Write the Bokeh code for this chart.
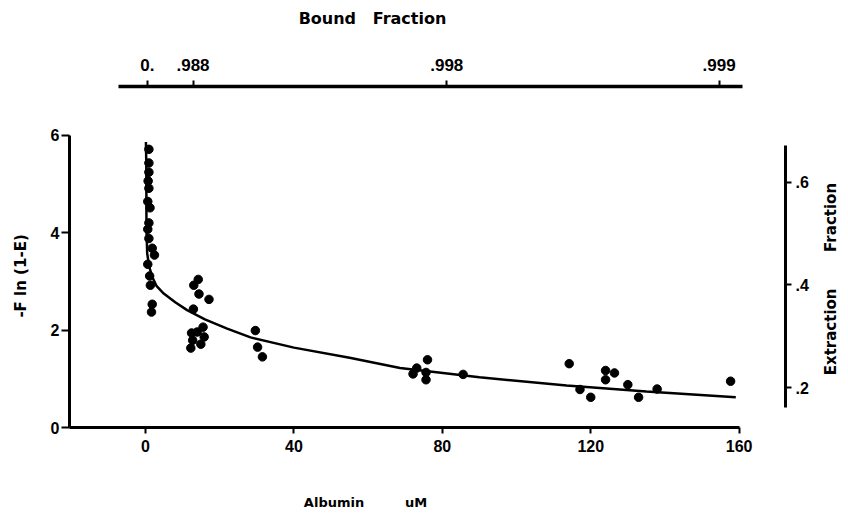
import math
from bokeh.plotting import figure
from bokeh.models import Range1d, LinearAxis, FixedTicker, Label
from bokeh.layouts import column, row
from bokeh.embed import file_html
from bokeh.resources import INLINE

# ---- data ----
albumin = [0.9, 0.9, 0.9, 0.7, 0.9, 0.6, 1.2, 0.9, 0.6, 0.9, 1.8, 2.4, 0.6, 1.1, 1.3, 1.8, 1.6,
           14.2, 13.0, 14.4, 17.1, 12.9, 15.5, 12.4, 13.9, 15.8, 12.7, 14.9, 12.2,
           29.6, 30.2, 31.5,
           73.1, 72.1, 76.0, 75.6, 75.6, 85.6,
           114.2, 117.1, 120.0, 124.0, 124.0, 126.4, 130.0, 132.9, 137.9, 157.7]
f_ln_term = [5.71, 5.43, 5.24, 5.06, 4.91, 4.64, 4.51, 4.20, 4.07, 3.88, 3.68, 3.54, 3.35, 3.11, 2.92, 2.53, 2.37,
             3.04, 2.92, 2.74, 2.63, 2.43, 2.06, 1.94, 1.96, 1.86, 1.79, 1.71, 1.63,
             1.99, 1.65, 1.45,
             1.22, 1.10, 1.39, 1.13, 0.98, 1.09,
             1.31, 0.78, 0.62, 1.17, 0.98, 1.12, 0.88, 0.62, 0.79, 0.95]

curve_albumin = [0.1, 0.2, 0.25, 0.45, 1.0, 1.8, 3.0, 4.9, 8.0, 11.2, 16.0, 22.0, 28.3,
                 40.0, 55.0, 68.6, 90.0, 113.5, 135.0, 159.1]
curve_value = [5.86, 5.43, 4.05, 3.57, 3.30, 3.09, 2.90, 2.75, 2.57, 2.41, 2.22, 2.03, 1.85,
               1.64, 1.43, 1.22, 1.03, 0.86, 0.74, 0.62]

left_ticks = [0, 2, 4, 6]
bottom_ticks = [0, 40, 80, 120, 160]
right_ticks = [0.2, 0.4, 0.6]
right_tick_labels = [".2", ".4", ".6"]
top_tick_albumin = [0.5, 12.8, 81.2, 154.6]
top_tick_labels = ["0.", ".988", ".998", ".999"]

NB = "\u00a0"
TOP_TITLE = "Bound" + NB * 3 + "Fraction"
BOTTOM_TITLE = "Albumin" + NB * 9 + "uM"
LEFT_TITLE = "-F" + NB + "ln" + NB + "(1-E)"
RIGHT_TITLE = "Extraction" + NB * 7 + "Fraction"

# ---- layout (px) ----
W, H = 847, 512
TOP_H, BOT_H = 40, 40
LEFT_W, RIGHT_W = 40, 35
MID_H = H - TOP_H - BOT_H
MAIN_W = W - LEFT_W - RIGHT_W
FL, FR, FT, FB = 69, 785, 86, 427   # frame edges, page px

X0, X1 = -20.5, 172.5
Y0, Y1 = 0.0, 7.0
E0, E1 = 0.122, 0.787

TICK_FONT = "Liberation Sans"
LABEL_FONT = "DejaVu Sans"


def strip(w, h):
    s = figure(width=w, height=h, output_backend="svg", toolbar_location=None,
               x_range=Range1d(0, w), y_range=Range1d(h, 0),
               x_axis_location=None, y_axis_location=None, min_border=0)
    s.outline_line_color = None
    s.grid.visible = False
    s.background_fill_color = "white"
    s.border_fill_color = "white"
    return s


def put(s, text, x, y, size, angle=0.0):
    s.add_layout(Label(x=x, y=y, text=text, angle=angle,
                       text_font=LABEL_FONT, text_font_style="bold",
                       text_font_size=size, text_color="black",
                       text_align="center", text_baseline="middle"))


top_strip = strip(W, TOP_H)
put(top_strip, TOP_TITLE, 372, 17.5, "16px")

bottom_strip = strip(W, BOT_H)
put(bottom_strip, BOTTOM_TITLE, 365, 502 - (H - BOT_H), "13px")

left_strip = strip(LEFT_W, MID_H)
put(left_strip, LEFT_TITLE, 20, 280 - TOP_H, "15px", angle=math.pi / 2)

right_strip = strip(RIGHT_W, MID_H)
put(right_strip, RIGHT_TITLE, 830 - (W - RIGHT_W), 284 - TOP_H, "15px", angle=math.pi / 2)

p = figure(width=MAIN_W, height=MID_H, output_backend="svg", toolbar_location=None,
           x_range=Range1d(X0, X1), y_range=Range1d(Y0, Y1),
           x_axis_location=None, y_axis_location=None,
           min_border_left=FL - LEFT_W, min_border_right=LEFT_W + MAIN_W - FR,
           min_border_top=FT - TOP_H, min_border_bottom=TOP_H + MID_H - FB)
p.outline_line_color = None
p.grid.visible = False
p.background_fill_color = "white"
p.border_fill_color = "white"
p.extra_y_ranges = {"E": Range1d(E0, E1)}


def style(ax, lw=3):
    ax.axis_line_width = lw
    ax.axis_line_color = "black"
    ax.major_tick_line_width = 2
    ax.major_tick_line_color = "black"
    ax.major_tick_in = 0
    ax.minor_tick_line_color = None
    ax.major_label_text_font = TICK_FONT
    ax.major_label_text_font_style = "bold"
    ax.major_label_text_font_size = "16px"
    ax.major_label_text_color = "black"


left = LinearAxis(ticker=FixedTicker(ticks=left_ticks), bounds=(0, 6))
style(left)
left.major_tick_out = 8
left.major_label_standoff = 2
p.add_layout(left, "left")

bottom = LinearAxis(ticker=FixedTicker(ticks=bottom_ticks), bounds=(X0, 160))
style(bottom)
bottom.major_tick_out = 6
bottom.major_label_standoff = 6
p.add_layout(bottom, "below")

top = LinearAxis(ticker=FixedTicker(ticks=top_tick_albumin), bounds=(-7.4, 160.9),
                 major_label_overrides=dict(zip(top_tick_albumin, top_tick_labels)))
style(top, lw=3.5)
top.major_label_text_font_size = "17px"
top.major_tick_out = 6
top.major_label_standoff = 10
p.add_layout(top, "above")

right = LinearAxis(y_range_name="E", ticker=FixedTicker(ticks=right_ticks), bounds=(0.161, 0.672),
                   major_label_overrides=dict(zip(right_ticks, right_tick_labels)))
style(right)
right.major_tick_out = 6
right.major_label_standoff = 4
p.add_layout(right, "right")

p.line(curve_albumin, curve_value, line_color="black", line_width=2.5)
p.scatter(albumin, f_ln_term, size=8.5, fill_color="black", line_color="black")

layout = column(top_strip, row(left_strip, p, right_strip), bottom_strip, spacing=0)

open("out.html", "w").write(file_html(layout, INLINE))
